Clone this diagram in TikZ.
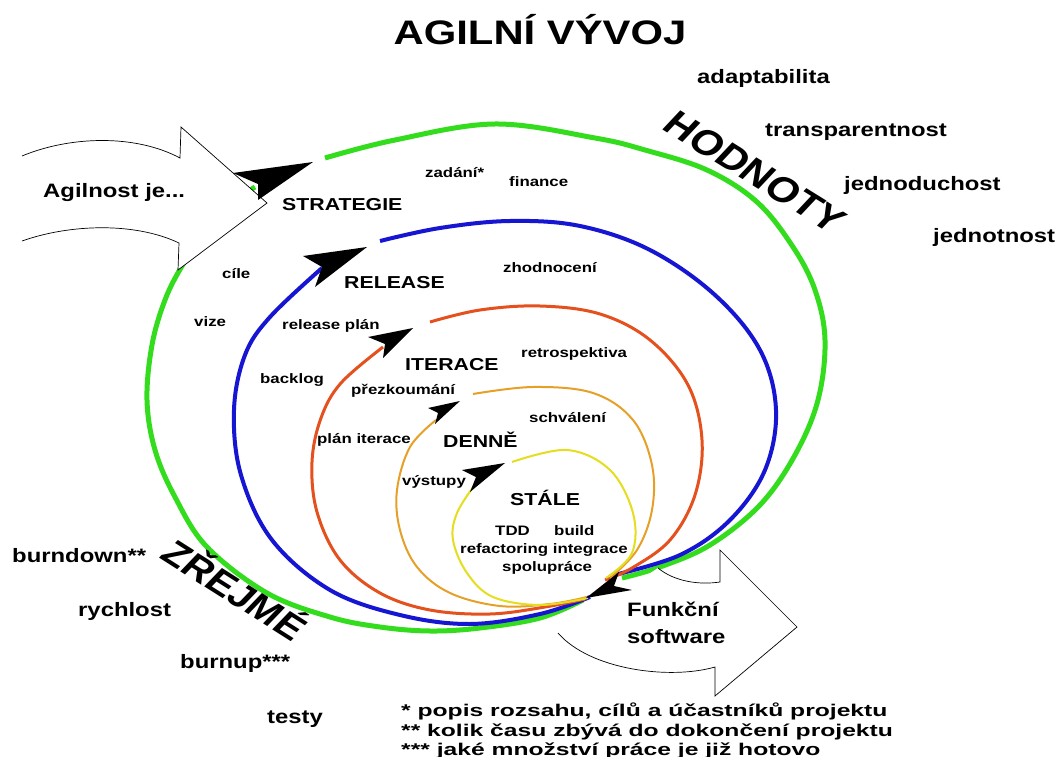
\documentclass[tikz,border=0pt]{standalone}
\usepackage{fontspec}
\setmainfont{Liberation Sans}
\usepackage{graphicx}
\newcommand\sxx[2][1.23]{\scalebox{#1}[1]{#2}}
\definecolor{cgreen}{RGB}{52,220,30}
\definecolor{cblue}{RGB}{22,22,210}
\definecolor{cred}{RGB}{228,80,30}
\definecolor{corange}{RGB}{230,160,40}
\definecolor{cyellow}{RGB}{228,222,30}
\begin{document}
\begin{tikzpicture}[x=1pt,y=-1pt,
  txt/.style={inner sep=0pt, anchor=base west},
  fbig/.style={font=\bfseries\fontsize{19.4}{22}\selectfont},
  fsec/.style={font=\bfseries\fontsize{17.3}{20}\selectfont},
  fsm/.style={font=\bfseries\fontsize{13.7}{16}\selectfont},
  ffoot/.style={font=\bfseries\fontsize{17}{20}\selectfont},
  loop/.style={line cap=round, smooth, tension=0.6},
  bigarrow/.style={draw=black, fill=white, line width=0.7pt, line join=miter},
  head/.style={fill=black, draw=none}]
\useasboundingbox (0,0) rectangle (1061,757);
\fill[white] (0,0) rectangle (1061,757);

% ---------------- loops ----------------
% green
\draw[cgreen, line width=5pt] plot[loop] coordinates {(583,600) (540,618) (480,628) (430,631) (380,627) (330,617) (267,593) (207,547) (175,497) (155,450) (147,400) (152,345) (165,300) (182,266) (205,232) (230,205) (255,187)};
\draw[cgreen, line width=5pt] plot[loop] coordinates {(325,158) (395,140) (495,124) (595,138) (645,150) (707,170) (757,202) (793,247) (815,290) (825,340) (818,400) (795,455) (760,505) (710,545) (660,567) (622,578)};
% blue
\draw[cblue, line width=4pt] plot[loop] coordinates {(590,597) (540,614) (470,624) (400,615) (330,590) (272,540) (241,475) (234,410) (245,355) (270,317) (322,268)};
\draw[cblue, line width=4pt] plot[loop] coordinates {(380,241) (440,228) (510,221) (580,226) (650,250) (715,295) (760,350) (776,410) (765,470) (730,520) (680,555) (614,575)};
% red
\draw[cred, line width=3pt] plot[loop] coordinates {(585,599) (545,607) (490,614) (430,610) (380,593) (340,560) (317,512) (312,462) (321,418) (341,383) (383,347)};
\draw[cred, line width=3pt] plot[loop] coordinates {(430,322) (480,310) (540,306) (600,314) (650,340) (688,385) (702,440) (695,495) (670,540) (632,568) (605,580)};
% orange
\draw[corange, line width=2pt] plot[loop] coordinates {(587,597) (550,604) (500,606) (450,593) (417,567) (400,530) (397,490) (410,447) (436,420)};
\draw[corange, line width=2pt] plot[loop] coordinates {(473,394) (533,387) (593,393) (633,420) (652,465) (652,510) (637,550) (610,578)};
% yellow
\draw[cyellow, line width=2pt] plot[loop] coordinates {(588,598) (540,605) (493,597) (467,573) (453,540) (457,513) (474,486)};
\draw[cyellow, line width=2pt] plot[loop] coordinates {(512,462) (567,450) (610,470) (633,513) (632,553) (606,578)};

% ---------------- big arrows ----------------
\draw[bigarrow] (22,156) .. controls (70,136) and (135,134) .. (180,158) -- (181,127) -- (267,203) -- (178,270) -- (179,243) .. controls (135,222) and (70,224) .. (22,241);
\draw[bigarrow] (658,568) .. controls (675,582) and (700,585) .. (720,582) -- (720,550) -- (797,627) -- (715,696) -- (715,667) .. controls (670,680) and (590,670) .. (558,633);

% ---------------- arrowheads ----------------
\fill[head] (313,162) -- (233,173) -- (258,184) -- (258,200) -- cycle;
\fill[head] (367,247) -- (303,256) -- (322,267) -- (315,287) -- cycle;
\fill[head] (413,328) -- (368,337) -- (385,344) -- (383,358) -- cycle;
\fill[head] (460,401) -- (428,408) -- (438,413) -- (435,424) -- cycle;
\fill[head] (505,463) -- (462,470) -- (476,477) -- (470,492) -- cycle;
\fill[head] (586,598) -- (619,572) -- (614,586) -- (632,590) -- cycle;

% ---------------- texts ----------------
\node[inner sep=0pt, anchor=base, font=\bfseries\fontsize{34}{38}\selectfont] (title) at (540,45) {\sxx{AGILNÍ VÝVOJ}};

\node[txt,fbig] (v1) at (697,84) {\sxx{adaptabilita}};
\node[txt,fbig] (v2) at (765,137) {\sxx{transparentnost}};
\node[txt,fbig] (v3) at (844,190) {\sxx{jednoduchost}};
\node[txt,fbig] (v4) at (933,243) {\sxx{jednotnost}};

\begin{scope}[shift={(749,179)}, xscale=1.23]
\node[rotate=-37.4, transform shape, inner sep=0pt, text height=0.72em, text depth=0pt, font=\bfseries\fontsize{35}{40}\selectfont] (hodnoty) at (0,0) {HODNOTY};
\end{scope}
\begin{scope}[shift={(228,597)}, xscale=1.23]
\node[rotate=-38, transform shape, inner sep=0pt, text height=0.72em, text depth=0pt, font=\bfseries\fontsize{34}{40}\selectfont] (zrejme) at (0,0) {ZŘEJMÉ};
\end{scope}

\node[txt,fbig] (agil) at (43,197) {\sxx{Agilnost je...}};
\node[txt,fsec] (strat) at (282,211) {\sxx{STRATEGIE}};
\node[txt,fsm] (zad) at (425,178) {\sxx{zadání*}};
\node[txt,fsm] (fin) at (509,186) {\sxx{finance}};
\node[txt,fsm] (cile) at (222,278) {\sxx{cíle}};
\node[txt,fsm] (vize) at (194,326) {\sxx{vize}};
\node[txt,fsec] (rel) at (344,288) {\sxx{RELEASE}};
\node[txt,fsm] (zhod) at (503,272) {\sxx{zhodnocení}};
\node[txt,fsm] (relp) at (282,329) {\sxx{release plán}};
\node[txt,fsec] (iter) at (405,370) {\sxx{ITERACE}};
\node[txt,fsm] (retro) at (521,357) {\sxx{retrospektiva}};
\node[txt,fsm] (back) at (260,383) {\sxx{backlog}};
\node[txt,fsm] (prez) at (351,394) {\sxx{přezkoumání}};
\node[txt,fsm] (schv) at (529,422) {\sxx{schválení}};
\node[txt,fsm] (plan) at (317,443) {\sxx{plán iterace}};
\node[txt,fsec] (denne) at (443,447) {\sxx{DENNĚ}};
\node[txt,fsm] (vyst) at (402,485) {\sxx{výstupy}};
\node[txt,fsec] (stale) at (510,505) {\sxx{STÁLE}};
\node[txt,fsm] (tdd) at (495,535) {\sxx{TDD}};
\node[txt,fsm] (build) at (554,535) {\sxx{build}};
\node[txt,fsm] (refa) at (460,553) {\sxx{refactoring integrace}};
\node[txt,fsm] (spol) at (502,571) {\sxx{spolupráce}};

\node[txt,fbig] (funk) at (627,616) {\sxx{Funkční}};
\node[txt,fbig] (soft) at (627,643) {\sxx{software}};

\node[txt,fbig] (burnd) at (12,562) {\sxx{burndown**}};
\node[txt,fbig] (rych) at (78,616) {\sxx{rychlost}};
\node[txt,fbig] (burnu) at (180,668) {\sxx{burnup***}};
\node[txt,fbig] (test) at (267,723) {\sxx{testy}};

\node[txt,ffoot] (f1) at (401,716) {\sxx[1.45]{* popis rozsahu, cílů a účastníků projektu}};
\node[txt,ffoot] (f2) at (401,736) {\sxx[1.45]{** kolik času zbývá do dokončení projektu}};
\node[txt,ffoot] (f3) at (401,755) {\sxx[1.45]{*** jaké množství práce je již hotovo}};
\end{tikzpicture}
\end{document}
